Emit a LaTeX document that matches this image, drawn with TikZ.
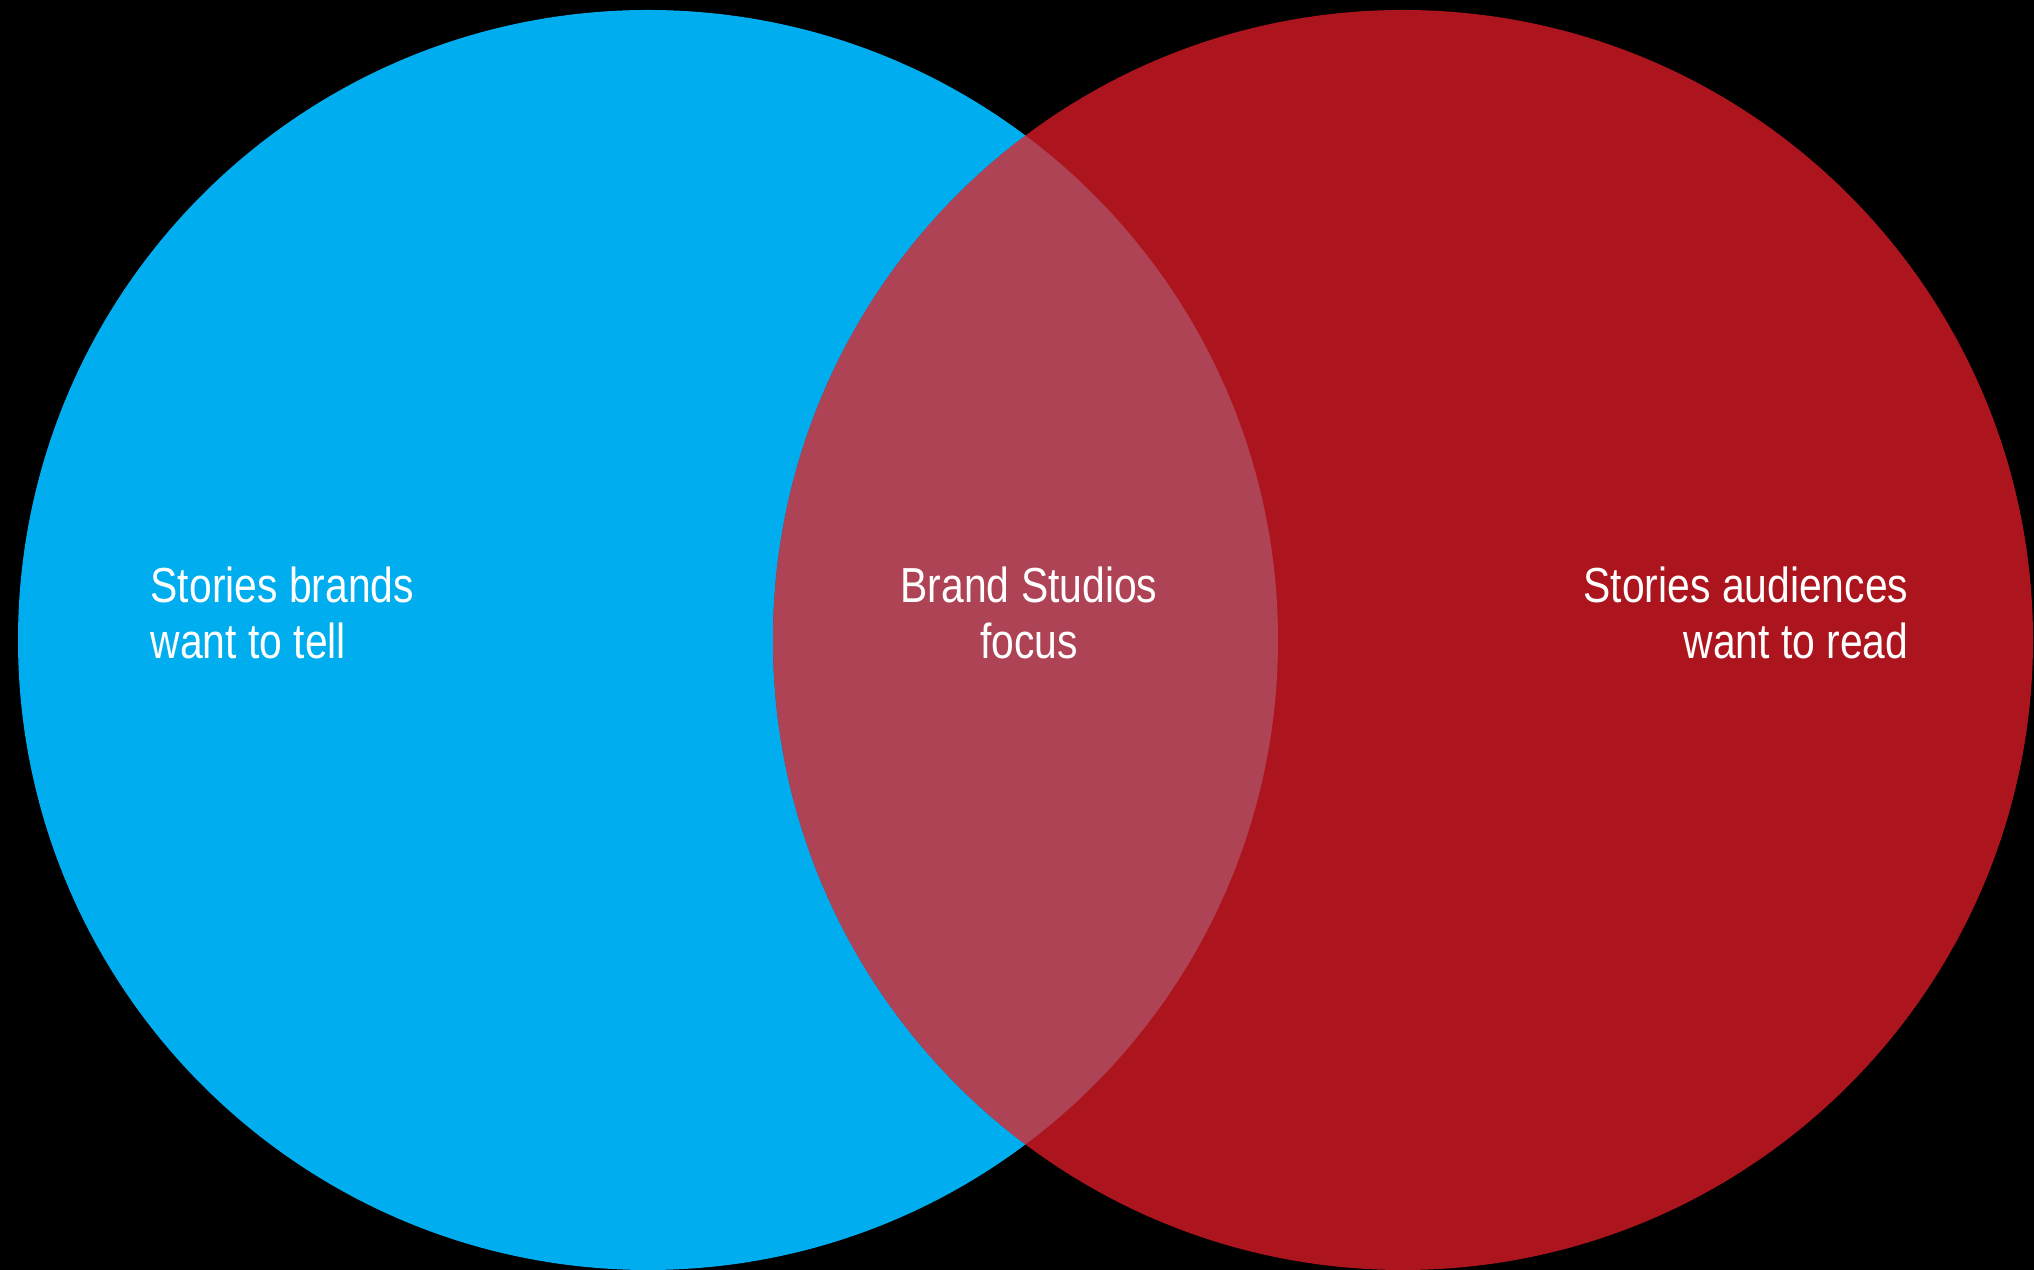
\documentclass[tikz,border=0pt]{standalone}
\usepackage{fontspec}
\setmainfont{Liberation Sans}[FakeStretch=0.83]
\usepackage{tikz, xcolor}

\definecolor{brandblue}{HTML}{00AEEF}
\definecolor{readred}{HTML}{AD151E}
\definecolor{focusrose}{HTML}{AF4356}

\tikzset{
  label text/.style={text=white, inner sep=0pt, font=\fontsize{14}{16}\selectfont}
}

\begin{document}
\begin{tikzpicture}
\fill[black] (0,0) rectangle (20.34,12.70);
\useasboundingbox (0,0) rectangle (20.34,12.70);
\fill[brandblue] (6.48,6.30) circle (6.30);
\fill[readred] (14.03,6.30) circle (6.30);
\begin{scope}
\clip (6.48,6.30) circle (6.30);
\fill[focusrose] (14.03,6.30) circle (6.30);
\end{scope}
\node[label text, anchor=north west, align=left] (brands) at (1.50,7.04) {Stories brands\\want to tell};
\node[label text, anchor=north, align=center] (focus) at (10.29,7.04) {Brand Studios\\focus};
\node[label text, anchor=north east, align=right] (audiences) at (19.09,7.04) {Stories audiences\\want to read};
\end{tikzpicture}
\end{document}
